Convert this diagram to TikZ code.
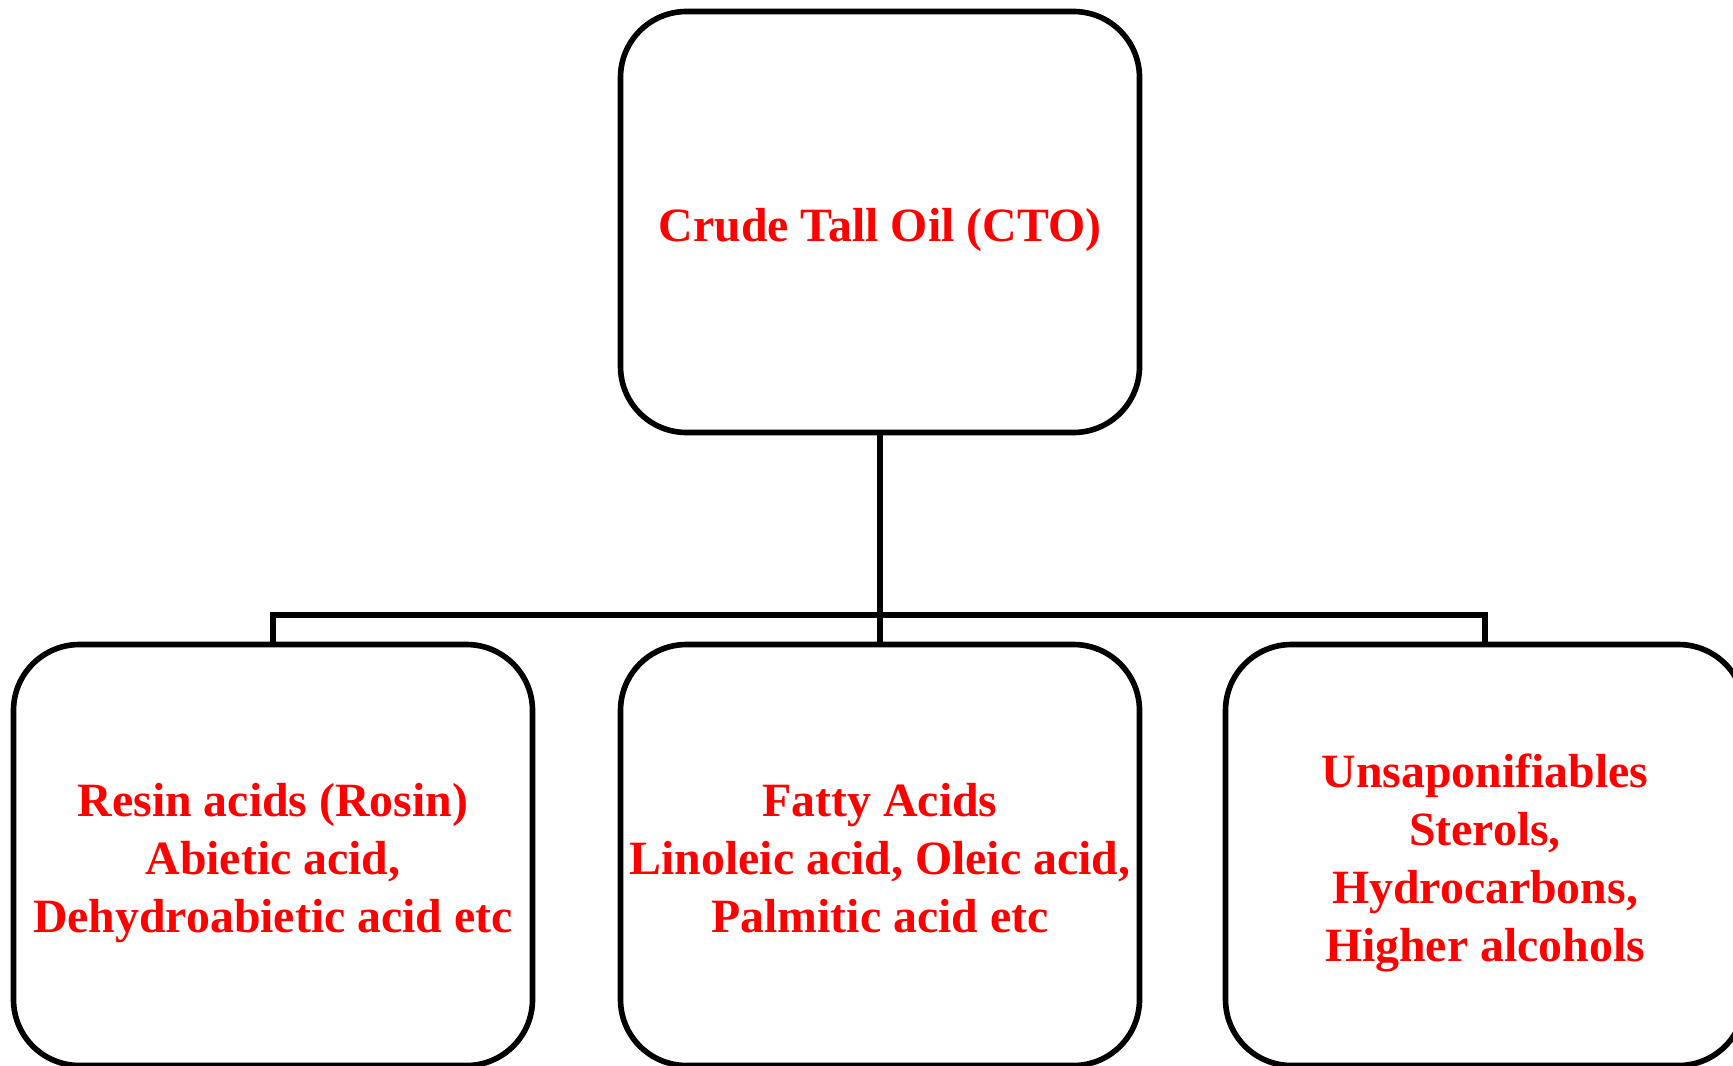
\documentclass[tikz,border=0pt]{standalone}
\usepackage{fontspec}
\setmainfont{Liberation Serif}
\usetikzlibrary{calc}
\newcommand{\boxtext}[1]{\raisebox{-0.075cm}[\height][\depth]{\begin{tabular}{@{}c@{}}#1\end{tabular}}}
\tikzset{
	partbox/.style={draw=black, line width=1.6pt, rounded corners=0.66cm,
		minimum width=5.19cm, minimum height=4.21cm,
		text=red, font=\fontsize{13.6}{16.5}\selectfont\bfseries, inner sep=0pt},
	branch/.style={draw=black, line width=1.6pt}
}

\begin{document}
\begin{tikzpicture}
		%%%%% START %%%%%
		\useasboundingbox (0, 0) rectangle (17.33, -10.65);
		
		\node[partbox] (cto) at (8.80, -2.22) {\boxtext{Crude Tall Oil (CTO)}};
		
		\node[partbox] (resin) at (2.73, -8.55) {\boxtext{Resin acids (Rosin)\\Abietic acid,\\Dehydroabietic acid etc}};
		\node[partbox] (fatty) at (8.80, -8.55) {\boxtext{Fatty Acids\\Linoleic acid, Oleic acid,\\Palmitic acid etc}};
		\node[partbox] (unsap) at (14.85, -8.55) {\boxtext{Unsaponifiables\\Sterols,\\Hydrocarbons,\\Higher alcohols}};
		
		\draw[branch] (cto.south) -- (fatty.north);
		\draw[branch] (resin.north) -- ++(0, 0.27) coordinate (bar) -| (unsap.north);
		
		%%%%% END %%%%%
	\end{tikzpicture}
\end{document}
